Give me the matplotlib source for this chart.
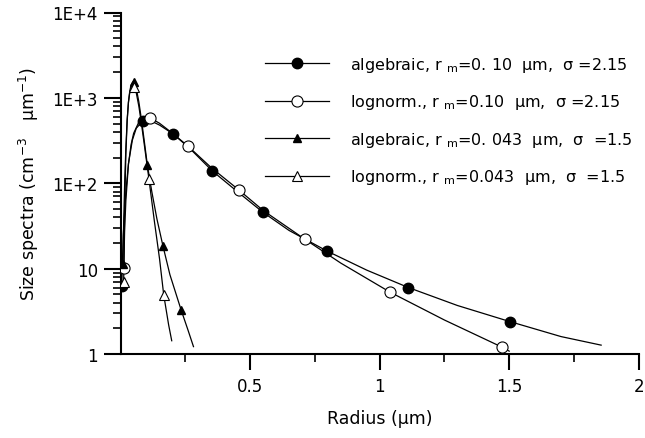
import numpy as np
import matplotlib
matplotlib.use("Agg")
import matplotlib.pyplot as plt
from matplotlib.ticker import FixedLocator, LogLocator, NullFormatter, FixedFormatter

plt.rcParams['font.family'] = ['DejaVu Sans']
plt.rcParams['mathtext.default'] = 'regular'

# algebraic, r_m = 0.10 um, sigma = 2.15 (filled circles)
r_alg1 = [0.004, 0.010, 0.020, 0.030, 0.045, 0.060, 0.086, 0.110, 0.150, 0.203, 0.270,
          0.353, 0.450, 0.548, 0.650, 0.796, 0.950, 1.111, 1.300, 1.502, 1.700, 1.855]
n_alg1 = [6.2, 25, 80, 170, 320, 440, 540, 550, 480, 377, 250,
          140, 80, 46, 28, 16.1, 9.6, 6.0, 3.7, 2.4, 1.6, 1.27]
mr_alg1 = [0.004, 0.086, 0.203, 0.353, 0.548, 0.796, 1.111, 1.502]
mn_alg1 = [6.2, 540, 377, 140, 46, 16.1, 6.0, 2.4]

# lognormal, r_m = 0.10 um, sigma = 2.15 (open circles)
r_log1 = [0.012, 0.015, 0.020, 0.030, 0.040, 0.050, 0.070, 0.100, 0.115, 0.150, 0.200,
          0.258, 0.350, 0.455, 0.550, 0.710, 0.850, 1.040, 1.250, 1.473, 1.500]
n_log1 = [10.1, 27, 63, 168, 283, 385, 520, 578, 580, 504, 385,
          275, 152, 84, 48, 22.2, 11.6, 5.3, 2.5, 1.2, 1.08]
mr_log1 = [0.012, 0.115, 0.258, 0.455, 0.710, 1.040, 1.473]
mn_log1 = [10.1, 580, 275, 84, 22.2, 5.3, 1.2]

# algebraic, r_m = 0.043 um, sigma = 1.5 (filled triangles)
r_alg2 = [0.008, 0.012, 0.016, 0.020, 0.025, 0.030, 0.035, 0.040, 0.047, 0.052, 0.060,
          0.070, 0.080, 0.090, 0.103, 0.120, 0.140, 0.163, 0.190, 0.233, 0.260, 0.281]
n_alg2 = [11.3, 40, 120, 260, 560, 900, 1200, 1420, 1540, 1530, 1300,
          900, 560, 330, 163, 80, 38, 18.5, 8.5, 3.3, 1.9, 1.22]
mr_alg2 = [0.008, 0.051, 0.103, 0.163, 0.233]
mn_alg2 = [11.3, 1540, 163, 18.5, 3.3]

# lognormal, r_m = 0.043 um, sigma = 1.5 (open triangles)
r_log2 = [0.0115, 0.015, 0.020, 0.025, 0.030, 0.035, 0.040, 0.047, 0.053, 0.060, 0.070,
          0.080, 0.090, 0.109, 0.130, 0.150, 0.166, 0.185, 0.197]
n_log2 = [6.9, 46, 224, 540, 890, 1160, 1300, 1340, 1330, 1150, 800,
          500, 300, 112, 36, 13, 4.95, 2.2, 1.43]
mr_log2 = [0.0115, 0.053, 0.109, 0.166]
mn_log2 = [6.9, 1330, 112, 4.95]

labels = [
    "algebraic, r $_{m}$=0. 10  \u03bcm,  \u03c3 =2.15",
    "lognorm., r $_{m}$=0.10  \u03bcm,  \u03c3 =2.15",
    "algebraic, r $_{m}$=0. 043  \u03bcm,  \u03c3  =1.5",
    "lognorm., r $_{m}$=0.043  \u03bcm,  \u03c3  =1.5",
]

y_ticks = [1, 10, 100, 1000, 10000]
y_ticklabels = ["1", "10", "1E+2", "1E+3", "1E+4"]
x_ticks = [0.5, 1.0, 1.5, 2.0]
x_ticklabels = ["0.5", "1", "1.5", "2"]

fig = plt.figure(figsize=(6.45, 4.39), dpi=100)
ax = fig.add_axes([120.7 / 645, 84 / 439, 518 / 645, 341.5 / 439])

lw = 0.9
series = [
    (r_alg1, n_alg1, mr_alg1, mn_alg1, dict(marker='o', ms=7.5, mfc='black', mec='black')),
    (r_log1, n_log1, mr_log1, mn_log1, dict(marker='o', ms=8, mfc='white', mec='black', mew=0.8)),
    (r_alg2, n_alg2, mr_alg2, mn_alg2, dict(marker='^', ms=6, mfc='black', mec='black')),
    (r_log2, n_log2, mr_log2, mn_log2, dict(marker='^', ms=6.5, mfc='white', mec='black', mew=0.8)),
]
handles = []
for (r, n, mr, mn, mstyle), lab in zip(series, labels):
    ax.plot(r, n, color='black', lw=lw, zorder=2)
    ax.plot(mr, mn, ls='none', zorder=3, **mstyle)
    h, = ax.plot([], [], color='black', lw=lw, **mstyle)
    handles.append(h)

ax.set_yscale('log')
ax.set_xlim(0, 2)
ax.set_ylim(1, 10000)

for s in ['top', 'right']:
    ax.spines[s].set_visible(False)
for s in ['left', 'bottom']:
    ax.spines[s].set_linewidth(1.5)

ax.yaxis.set_major_locator(FixedLocator(y_ticks))
ax.yaxis.set_major_formatter(FixedFormatter(y_ticklabels))
ax.yaxis.set_minor_locator(LogLocator(base=10, subs=np.arange(2, 10)))
ax.yaxis.set_minor_formatter(NullFormatter())
ax.xaxis.set_major_locator(FixedLocator(x_ticks))
ax.xaxis.set_major_formatter(FixedFormatter(x_ticklabels))
ax.xaxis.set_minor_locator(FixedLocator([0.25, 0.75, 1.25, 1.75]))

ax.tick_params(axis='y', which='major', direction='out', length=12.5, width=1.5, pad=4, labelsize=12)
ax.tick_params(axis='y', which='minor', direction='out', length=6, width=1.2)
ax.tick_params(axis='x', which='major', direction='out', length=11.5, width=1.5, pad=5, labelsize=12)
ax.tick_params(axis='x', which='minor', direction='out', length=5.5, width=1.2)

ax.set_xlabel("Radius (\u03bcm)", fontsize=12.5, labelpad=10)
ax.set_ylabel("Size spectra (cm$^{-3}$   \u03bcm$^{-1}$)", fontsize=12.5, labelpad=8)

ax.legend(handles, labels, loc='upper left', frameon=False, fontsize=11.5,
          bbox_to_anchor=(265 / 645, (439 - 56) / 439), bbox_transform=fig.transFigure,
          borderaxespad=0, borderpad=0, handlelength=4.0, handletextpad=1.3,
          labelspacing=1.15)

fig.savefig("out.png", dpi=100)
